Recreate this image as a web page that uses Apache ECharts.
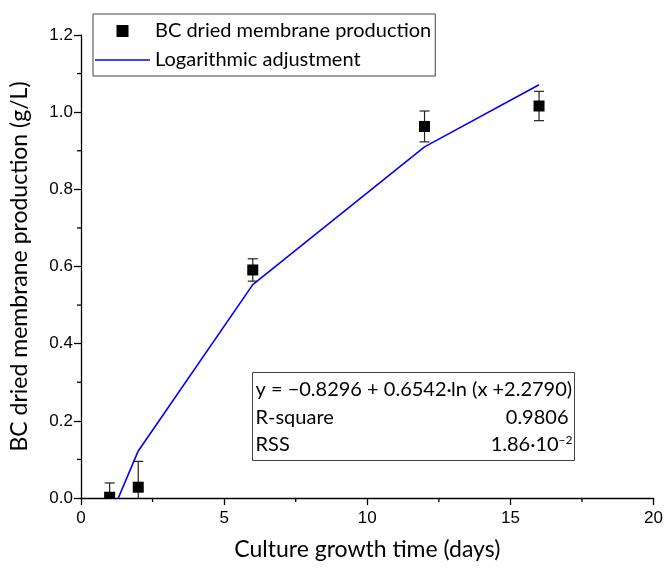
<!DOCTYPE html>
<html>
<head>
<meta charset="utf-8">
<script src="https://cdn.jsdelivr.net/npm/echarts@6/dist/echarts.min.js"></script>
<style>
  html, body { margin: 0; padding: 0; background: #fff; }
  #chart { width: 666px; height: 572px; }
</style>
</head>
<body>
<div id="chart"></div>
<script>
// Culture time (days) and measured dried BC membrane production (g/L)
var days = [1, 2, 6, 12, 16];
var production = [0.002, 0.028, 0.591, 0.963, 1.016];
var productionError = [0.037, 0.067, 0.029, 0.040, 0.038];
// Logarithmic fit evaluated at the sampling days
var fitValues = [-0.053, 0.122, 0.553, 0.910, 1.071];

var xTicks = [0, 5, 10, 15, 20];
var yTicks = [0, 0.2, 0.4, 0.6, 0.8, 1.0, 1.2];
var xMinorTicks = [2.5, 7.5, 12.5, 17.5];
var yMinorTicks = [0.1, 0.3, 0.5, 0.7, 0.9, 1.1];

var fitEquation = 'y = \u22120.8296 + 0.6542\u00b7ln (x +2.2790)';
var rSquare = '0.9806';
var rssMantissa = '1.86\u00b710';
var rssExponent = '\u22122';

var seriesMeasured = 'BC dried membrane production';
var seriesFit = 'Logarithmic adjustment';

var textFont = 'Lato, "Noto Sans", sans-serif';
var tickFont = '"Liberation Sans", Arial, sans-serif';

var chart = echarts.init(document.getElementById('chart'), null, { renderer: 'canvas' });

var measured = days.map(function (d, i) {
  return [d, production[i], productionError[i]];
});
var fitted = days.map(function (d, i) { return [d, fitValues[i]]; });

var axisColor = '#000';
var tickStyle = { color: axisColor, width: 1.3 };

// square marker with symmetric error bar
function renderMeasured(params, api) {
  var x = api.value(0), y = api.value(1), e = api.value(2);
  var c = api.coord([x, y]);
  var top = api.coord([x, y + e]);
  var bot = api.coord([x, y - e]);
  var cap = 5, half = 5.5;
  var barStyle = { stroke: '#222', lineWidth: 1.2, fill: null };
  return {
    type: 'group',
    children: [
      { type: 'line', shape: { x1: c[0], y1: top[1], x2: c[0], y2: bot[1] }, style: barStyle },
      { type: 'line', shape: { x1: c[0] - cap, y1: top[1], x2: c[0] + cap, y2: top[1] }, style: barStyle },
      { type: 'line', shape: { x1: c[0] - cap, y1: bot[1], x2: c[0] + cap, y2: bot[1] }, style: barStyle },
      { type: 'rect', shape: { x: c[0] - half, y: c[1] - half, width: half * 2, height: half * 2 },
        style: { fill: '#000' } }
    ]
  };
}

// short outward ticks between the labelled ones
var minorLen = 4;
function renderXMinor(params, api) {
  var p = api.coord([api.value(0), 0]);
  return { type: 'line', shape: { x1: p[0], y1: p[1], x2: p[0], y2: p[1] + minorLen },
           style: { stroke: axisColor, lineWidth: 1.3 } };
}
function renderYMinor(params, api) {
  var p = api.coord([0, api.value(1)]);
  return { type: 'line', shape: { x1: p[0], y1: p[1], x2: p[0] - minorLen, y2: p[1] },
           style: { stroke: axisColor, lineWidth: 1.3 } };
}

chart.setOption({
  animation: false,
  backgroundColor: '#fff',
  grid: { left: 80, right: 11, top: 35, bottom: 74, containLabel: false },
  legend: {
    orient: 'vertical',
    left: 93,
    top: 14,
    padding: [7, 4, 6, 2],
    itemGap: 9,
    itemWidth: 55,
    itemHeight: 12,
    borderColor: '#444',
    borderWidth: 1,
    backgroundColor: '#fff',
    textStyle: { fontFamily: textFont, fontSize: 20, color: '#000' },
    data: [
      { name: seriesMeasured, icon: 'path://M0,0h10v10h-10z', itemStyle: { color: '#000' } },
      { name: seriesFit, icon: 'path://M0,0H55V1.6H0Z', itemStyle: { color: '#0000ff' } }
    ]
  },
  xAxis: {
    type: 'value',
    min: 0, max: 20, interval: 5,
    name: 'Culture growth time (days)',
    nameLocation: 'middle',
    nameGap: 40,
    nameTextStyle: { fontFamily: textFont, fontSize: 23, color: '#000' },
    axisLine: { show: true, onZero: false, lineStyle: tickStyle },
    axisTick: { show: true, inside: false, length: 7, lineStyle: tickStyle },
    axisLabel: {
      margin: 12, fontFamily: tickFont, fontSize: 17, color: '#000',
      formatter: function (v) { return xTicks.indexOf(v) >= 0 ? String(v) : ''; }
    },
    splitLine: { show: false }
  },
  yAxis: {
    type: 'value',
    min: 0, max: 1.2, interval: 0.2,
    name: 'BC dried membrane production (g/L)',
    nameLocation: 'middle',
    nameGap: 50,
    nameTextStyle: { fontFamily: textFont, fontSize: 23, color: '#000' },
    axisLine: { show: true, onZero: false, lineStyle: tickStyle },
    axisTick: { show: true, inside: false, length: 7, lineStyle: tickStyle },
    axisLabel: {
      margin: 8, fontFamily: tickFont, fontSize: 17, color: '#000',
      formatter: function (v) {
        var t = yTicks.filter(function (k) { return Math.abs(k - v) < 1e-9; });
        return t.length ? v.toFixed(1) : '';
      }
    },
    splitLine: { show: false }
  },
  series: [
    {
      name: seriesFit,
      type: 'line',
      data: fitted,
      symbol: 'none',
      clip: true,
      lineStyle: { color: '#0000ff', width: 1.6 },
      itemStyle: { color: '#0000ff' },
      z: 2
    },
    {
      name: seriesMeasured,
      type: 'custom',
      data: measured,
      renderItem: renderMeasured,
      clip: true,
      encode: { x: 0, y: 1 },
      itemStyle: { color: '#000' },
      z: 3
    },
    {
      type: 'custom',
      data: xMinorTicks.map(function (v) { return [v, 0]; }),
      renderItem: renderXMinor,
      clip: false,
      silent: true,
      encode: { x: 0, y: 1 },
      z: 4
    },
    {
      type: 'custom',
      data: yMinorTicks.map(function (v) { return [0, v]; }),
      renderItem: renderYMinor,
      clip: false,
      silent: true,
      encode: { x: 0, y: 1 },
      z: 4
    }
  ],
  graphic: [
    {
      type: 'group',
      left: 252,
      top: 372,
      children: [
        { type: 'rect', shape: { x: 0, y: 0, width: 322, height: 88 },
          style: { fill: '#fff', stroke: '#444', lineWidth: 1 } },
        { type: 'text', x: 3, y: 17,
          style: { text: fitEquation, font: '20px ' + textFont, fill: '#000', textVerticalAlign: 'middle' } },
        { type: 'text', x: 3, y: 45,
          style: { text: 'R-square', font: '20px ' + textFont, fill: '#000', textVerticalAlign: 'middle' } },
        { type: 'text', x: 316, y: 45,
          style: { text: rSquare, font: '20px ' + textFont, fill: '#000', textAlign: 'right', textVerticalAlign: 'middle' } },
        { type: 'text', x: 3, y: 72,
          style: { text: 'RSS', font: '20px ' + textFont, fill: '#000', textVerticalAlign: 'middle' } },
        { type: 'text', x: 320, y: 72,
          style: {
            text: '{m|' + rssMantissa + '}{e|' + rssExponent + '}',
            textAlign: 'right', textVerticalAlign: 'middle',
            rich: {
              m: { fontFamily: textFont, fontSize: 20, color: '#000' },
              e: { fontFamily: textFont, fontSize: 12, color: '#000', verticalAlign: 'top', padding: [0, 0, 9, 0] }
            }
          } }
      ]
    }
  ]
});
</script>
</body>
</html>
